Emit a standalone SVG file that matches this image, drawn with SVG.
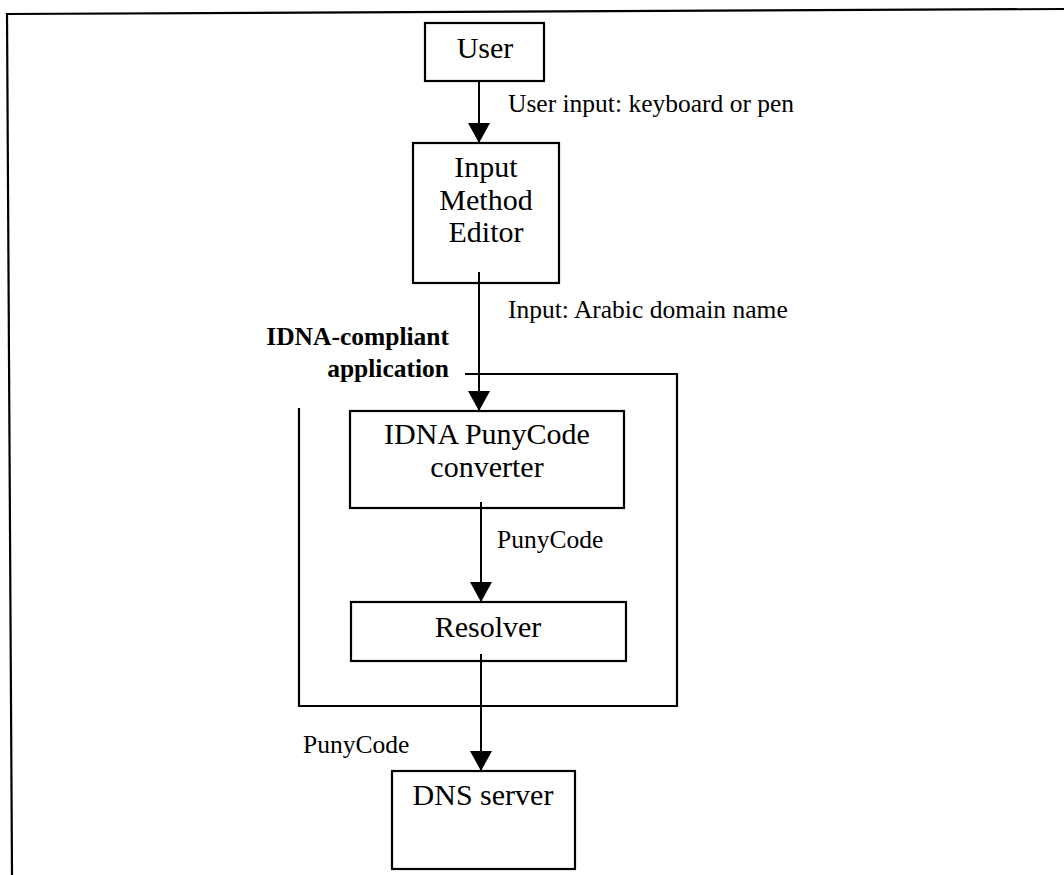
<svg xmlns="http://www.w3.org/2000/svg" width="1064" height="875" viewBox="0 0 1064 875">
<style>
.box{fill:#fff;stroke:#000;stroke-width:2.2}
.frame{fill:none;stroke:#000;stroke-width:2.2}
.conn{fill:none;stroke:#000;stroke-width:2}
.nt{font-family:"Liberation Serif","Times New Roman",serif;font-size:30px;fill:#000;text-anchor:middle}
.lb{font-family:"Liberation Serif","Times New Roman",serif;font-size:25.5px;fill:#000}
.bl{font-family:"Liberation Serif","Times New Roman",serif;font-size:25.5px;font-weight:bold;fill:#000;text-anchor:end}
</style>
<defs>
<marker id="arr" viewBox="0 0 20 22" refX="20" refY="11" markerWidth="20" markerHeight="22" markerUnits="userSpaceOnUse" orient="auto">
<path d="M0,0 L20,11 L0,22 z" fill="#000"/>
</marker>
</defs>
<rect width="1064" height="875" fill="#fff"/>
<g id="outer-frame">
<line class="frame" x1="7" y1="14" x2="1064" y2="9"/>
<line class="frame" x1="7" y1="13" x2="12" y2="875"/>
</g>
<g id="application">
<path class="frame" d="M465,374 H677 V706 H299 V408"/>
<text class="bl" x="449" y="345">IDNA-compliant</text>
<text class="bl" x="449" y="377">application</text>
</g>
<g id="user">
<rect class="box" x="425" y="23" width="119" height="58"/>
<text class="nt" x="485" y="58">User</text>
</g>
<g id="ime">
<rect class="box" x="413" y="143" width="146" height="140"/>
<text class="nt" x="486" y="177">Input</text>
<text class="nt" x="486" y="210">Method</text>
<text class="nt" x="486" y="242">Editor</text>
</g>
<g id="converter">
<rect class="box" x="350" y="411" width="274" height="97"/>
<text class="nt" x="487" y="444">IDNA PunyCode</text>
<text class="nt" x="487" y="477">converter</text>
</g>
<g id="resolver">
<rect class="box" x="351" y="602" width="275" height="59"/>
<text class="nt" x="488" y="637">Resolver</text>
</g>
<g id="dns">
<rect class="box" x="392" y="771" width="183" height="98"/>
<text class="nt" x="483" y="805">DNS server</text>
</g>
<g id="connectors">
<line class="conn" x1="479" y1="81" x2="479" y2="143" marker-end="url(#arr)"/>
<line class="conn" x1="479" y1="272" x2="479" y2="411" marker-end="url(#arr)"/>
<line class="conn" x1="481" y1="502" x2="481" y2="602" marker-end="url(#arr)"/>
<line class="conn" x1="481" y1="654" x2="481" y2="771" marker-end="url(#arr)"/>
<text class="lb" x="508" y="112">User input: keyboard or pen</text>
<text class="lb" x="508" y="318">Input: Arabic domain name</text>
<text class="lb" x="497" y="548">PunyCode</text>
<text class="lb" x="303" y="753">PunyCode</text>
</g>
</svg>
